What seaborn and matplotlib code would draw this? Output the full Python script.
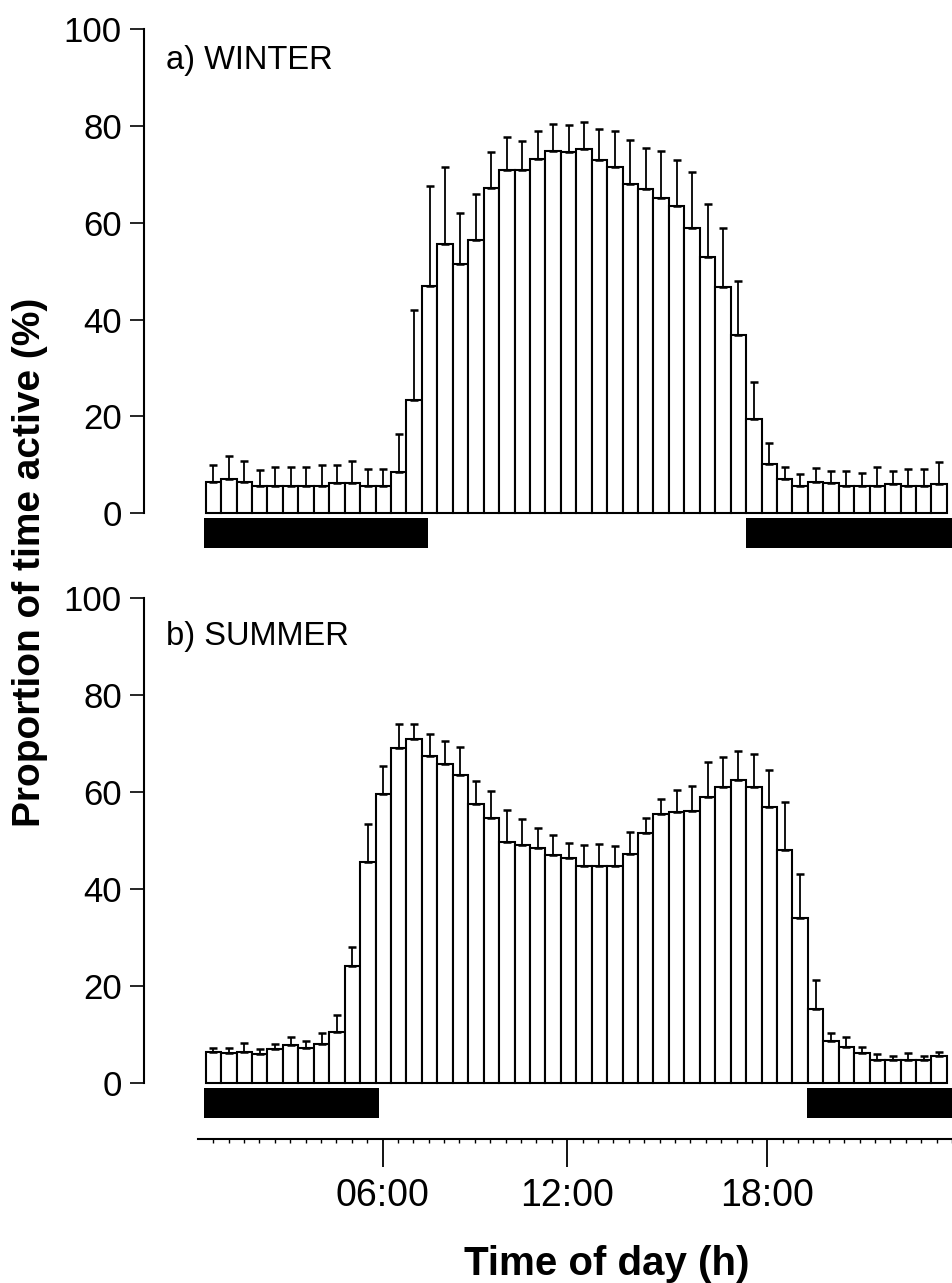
import numpy as np
import matplotlib
matplotlib.use("Agg")
import matplotlib.pyplot as plt
import seaborn as sns

# Half-hour bins, labelled by the end of each bin (00:30 ... 24:00)
hours = np.arange(1, 49) * 0.5

winter_mean = [6.5, 7.0, 6.5, 5.6, 5.6, 5.6, 5.6, 5.6, 6.2, 6.2, 5.6, 5.6,
               8.6, 23.4, 47.0, 55.6, 51.5, 56.5, 67.3, 70.9, 70.9, 73.1, 74.9, 74.6,
               75.3, 73.0, 71.5, 68.0, 66.9, 65.1, 63.5, 58.9, 52.9, 46.8, 36.8, 19.5,
               10.2, 7.0, 5.6, 6.5, 6.2, 5.6, 5.6, 5.6, 6.0, 5.6, 5.6, 6.0]
winter_err = [3.5, 4.8, 4.4, 3.3, 4.0, 4.0, 4.0, 4.4, 3.8, 4.7, 3.5, 3.5,
              7.8, 18.6, 20.6, 15.9, 10.6, 9.5, 7.4, 6.9, 6.1, 5.9, 5.5, 5.6,
              5.5, 6.5, 7.5, 9.1, 8.6, 9.8, 9.5, 11.7, 11.0, 12.1, 11.1, 7.6,
              4.4, 2.5, 2.5, 2.8, 2.6, 3.2, 2.8, 3.9, 2.8, 3.5, 3.5, 4.5]

summer_mean = [6.5, 6.3, 6.5, 6.0, 7.0, 7.9, 7.3, 8.2, 10.5, 24.2, 45.7, 59.6,
               69.2, 70.9, 67.5, 65.8, 63.6, 57.6, 54.6, 49.8, 49.1, 48.5, 47.1, 46.4,
               44.9, 44.9, 44.9, 47.3, 51.7, 55.5, 55.9, 56.2, 59.1, 61.0, 62.5, 61.0,
               57.0, 48.1, 34.0, 15.3, 8.8, 7.4, 6.2, 4.8, 4.8, 4.9, 4.9, 5.6]
summer_err = [0.7, 1.0, 1.9, 1.1, 1.0, 1.7, 1.5, 2.2, 3.6, 4.0, 7.8, 5.8,
              4.8, 3.1, 4.5, 4.8, 5.7, 4.7, 5.7, 6.6, 5.4, 4.2, 4.1, 3.2,
              4.2, 4.4, 4.1, 4.6, 3.1, 3.1, 4.6, 5.1, 7.1, 6.3, 6.1, 6.9,
              7.7, 9.8, 9.2, 6.0, 1.6, 2.1, 1.2, 1.2, 0.8, 1.3, 0.7, 0.9]

# Darkness periods (sunset -> sunrise), in hours
winter_night = [(0.2, 7.44), (17.74, 24.6)]
summer_night = [(0.2, 5.86), (19.71, 24.6)]

panel_titles = ["a) WINTER", "b) SUMMER"]
y_ticks = [0, 20, 40, 60, 80, 100]
time_tick_labels = ["06:00", "12:00", "18:00"]

sns.set_style("ticks")
plt.rcParams["font.family"] = ["Liberation Sans", "DejaVu Sans"]
plt.rcParams["text.color"] = "black"

W, H = 952, 1283
fig = plt.figure(figsize=(W / 100, H / 100), dpi=100)


def frame(left, top, right, bottom):
    return [left / W, 1 - bottom / H, (right - left) / W, (bottom - top) / H]


XLIM = (-1.749, 24.417)
YLIM = (-8, 100)
LW_SPINE = 1.5


def draw_panel(rect, mean, err, night, title, title_y):
    ax = fig.add_axes(rect)
    sns.barplot(x=hours, y=mean, native_scale=True, width=1.0, color="white",
                saturation=1, edgecolor="black", linewidth=1.5, errorbar=None, ax=ax)
    ax.errorbar(hours, mean, yerr=[np.zeros(len(err)), err], fmt="none",
                ecolor="black", elinewidth=1.3, capsize=3.0, capthick=1.8, zorder=3)
    ax.broken_barh([(a, b - a) for a, b in night], (-7.2, 6.3),
                   facecolors="black", edgecolor="none")
    ax.set_xlim(*XLIM)
    ax.set_ylim(*YLIM)
    ax.set_yticks(y_ticks)
    ax.set_yticklabels([str(t) for t in y_ticks])
    ax.set_xticks([])
    ax.set_xlabel("")
    ax.set_ylabel("")
    for s in ("top", "right", "bottom"):
        ax.spines[s].set_visible(False)
    ax.spines["left"].set_bounds(0, 100)
    ax.spines["left"].set_linewidth(LW_SPINE)
    ax.spines["left"].set_color("black")
    ax.tick_params(axis="y", direction="out", length=10, width=1.2,
                   labelsize=25, pad=6, colors="black")
    ax.patch.set_alpha(0)
    ax.text(-1.04, title_y, title, fontsize=23.5, ha="left", va="baseline",
            color="black")
    return ax


draw_panel(frame(144, 29.3, 952, 552.0), winter_mean, winter_err,
           winter_night, panel_titles[0], 91.9)
draw_panel(frame(144, 598.3, 952, 1122.1), summer_mean, summer_err,
           summer_night, panel_titles[1], 90.4)

# Shared time-of-day axis
axt = fig.add_axes(frame(144, 1129, 952, 1139))
axt.set_xlim(*XLIM)
axt.set_ylim(0, 1)
axt.set_yticks([])
for s in ("top", "right", "left"):
    axt.spines[s].set_visible(False)
axt.spines["bottom"].set_bounds(0, 24.6)
axt.spines["bottom"].set_linewidth(LW_SPINE)
axt.spines["bottom"].set_color("black")
axt.set_xticks([6, 12, 18.5])
axt.set_xticklabels(time_tick_labels)
axt.set_xticks(np.arange(1, 50) * 0.5, minor=True)
axt.tick_params(axis="x", which="major", direction="out", length=20, width=1.3,
                labelsize=27, pad=8, colors="black")
axt.tick_params(axis="x", which="minor", direction="out", length=3, width=1.0,
                colors="black")
axt.patch.set_alpha(0)

fig.text(607 / W, 1 - 1275 / H, "Time of day (h)", fontsize=29, fontweight="bold",
         ha="center", va="baseline", color="black")
fig.text(30 / W, 1 - 562 / H, "Proportion of time active (%)", fontsize=28,
         fontweight="bold", rotation=90, ha="center", va="center", color="black")

fig.savefig("out.png", dpi=100, facecolor="white")
